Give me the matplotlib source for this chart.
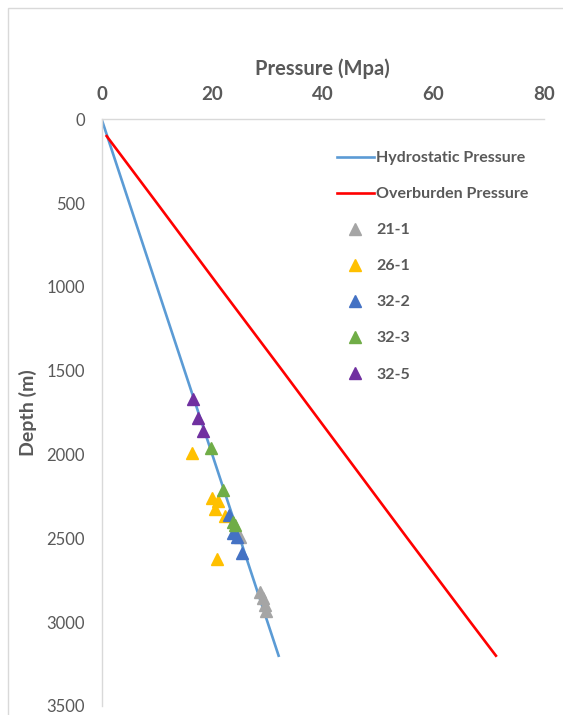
import matplotlib.pyplot as plt
from matplotlib.patches import Rectangle

# hydrostatic and overburden pressure profiles (MPa vs depth m)
hydro_depth = [0, 500, 1000, 1500, 2000, 2500, 3000, 3200]
hydro_p = [0, 5.0, 10.0, 15.0, 20.0, 25.0, 30.0, 32.0]

over_depth = [100, 500, 1000, 1500, 2000, 2500, 3000, 3200]
over_p = [0.9, 10.0, 21.3, 32.7, 44.0, 55.3, 66.7, 71.3]

# measured pressures per well
wells = ['21-1', '26-1', '32-2', '32-3', '32-5']
well_p = {
    '21-1': [25.0, 28.6, 29.1, 29.5, 29.8],
    '26-1': [16.3, 19.9, 21.0, 20.5, 22.3, 20.8],
    '32-2': [23.0, 23.8, 24.4, 25.3],
    '32-3': [19.8, 21.9, 23.7, 24.1],
    '32-5': [16.6, 17.5, 18.4],
}
well_depth = {
    '21-1': [2489, 2817, 2856, 2896, 2936],
    '26-1': [1992, 2260, 2280, 2326, 2366, 2622],
    '32-2': [2360, 2469, 2489, 2588],
    '32-3': [1958, 2210, 2400, 2423],
    '32-5': [1670, 1783, 1857],
}
well_colors = ['#A5A5A5', '#FFC000', '#4472C4', '#70AD47', '#7030A0']

plt.rcParams['font.family'] = ['Lato', 'DejaVu Sans']
txt = '#595959'
grid = '#D9D9D9'

fig = plt.figure(figsize=(5.63, 7.15), dpi=100)
fig.patches.append(Rectangle((8 / 563, -0.1), 1.2, 1 - 8 / 715 + 0.1,
                             transform=fig.transFigure, fill=False,
                             edgecolor=grid, lw=1))
ax = fig.add_axes([0.1806, 0.0126, 0.7857, 0.8205])

ax.plot(hydro_p, hydro_depth, color='#5B9BD5', lw=1.9, label='Hydrostatic Pressure')
ax.plot(over_p, over_depth, color='#FF0000', lw=1.9, label='Overburden Pressure')
for w, c in zip(wells, well_colors):
    ax.plot(well_p[w], well_depth[w], ls='none', marker='^', ms=8.5,
            color=c, mec=c, label=w)

ax.set_xlim(0, 80)
ax.set_ylim(3500, 0)
ax.xaxis.tick_top()
ax.xaxis.set_label_position('top')
ax.set_xticks([0, 20, 40, 60, 80])
ax.set_yticks(range(0, 3501, 500))
for s in ['right', 'bottom']:
    ax.spines[s].set_visible(False)
for s in ['top', 'left']:
    ax.spines[s].set_color(grid)
    ax.spines[s].set_linewidth(1)
ax.tick_params(axis='both', length=0, colors=txt, pad=12)
ax.tick_params(axis='y', labelsize=12)
ax.tick_params(axis='x', labelsize=13.5)
for lab in ax.get_xticklabels():
    lab.set_fontweight('bold')

ax.set_xlabel('Pressure (Mpa)', fontsize=14.5, fontweight='bold', color=txt, labelpad=8)
ax.set_ylabel('Depth (m)', fontsize=14, fontweight='bold', color=txt, labelpad=7)

leg = ax.legend(loc='upper left', bbox_to_anchor=(337 / 563, 1 - 151 / 715),
                bbox_transform=fig.transFigure, frameon=False, borderpad=0,
                borderaxespad=0, handlelength=2.3, handletextpad=0.15,
                labelspacing=1.37, prop={'size': 11.5, 'weight': 'bold'})
for t in leg.get_texts():
    t.set_color(txt)

fig.savefig('out.png', dpi=100)
